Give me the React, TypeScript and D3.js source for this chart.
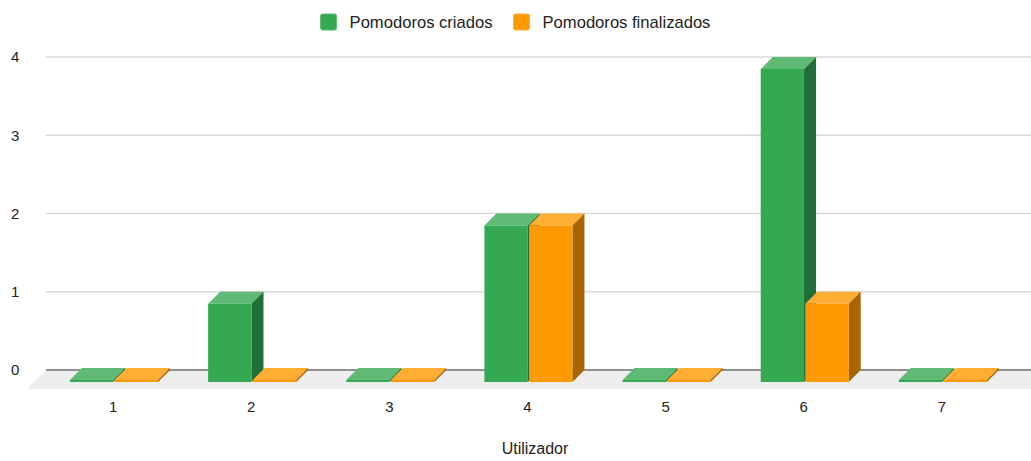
import React, { useRef, useEffect } from "react";
import * as d3 from "d3";

// data
const categories = ["1", "2", "3", "4", "5", "6", "7"];
const criados = [0, 1, 0, 2, 0, 4, 0];
const finalizados = [0, 0, 0, 2, 0, 1, 0];
const seriesNames = ["Pomodoros criados", "Pomodoros finalizados"];
const yTicks = [0, 1, 2, 3, 4];
const xTitle = "Utilizador";

const palette = [
  { front: "#34a853", top: "#5fba75", side: "#226e37" },
  { front: "#ff9900", top: "#ffad33", side: "#a86500" },
];

function App() {
  const svgRef = useRef<SVGSVGElement | null>(null);
  const width = 1031;
  const height = 461;
  const depth = 12;
  const font = "'Liberation Sans', Arial, sans-serif";

  useEffect(() => {
    document.body.style.margin = "0";
    const svg = d3.select(svgRef.current);
    svg.selectAll("*").remove();

    const values = [criados, finalizados];

    // x is measured on the front plane, y on the back wall
    const x0 = d3.scaleBand<string>().domain(categories).range([44, 1011]);
    const x1 = d3
      .scaleBand<string>()
      .domain(seriesNames)
      .range([26, 114])
      .paddingInner(0.03);
    const y = d3.scaleLinear().domain([0, 4]).range([370, 57]);

    const left = 46;

    // floor
    svg
      .append("polygon")
      .attr(
        "points",
        [
          [left, y(0)],
          [width + 20, y(0)],
          [width + 20 - 19, y(0) + 19],
          [left - 19, y(0) + 19],
        ]
          .map(p => p.join(","))
          .join(" ")
      )
      .attr("fill", "#eeeeee");

    // gridlines
    svg
      .append("g")
      .selectAll("line")
      .data(yTicks.filter(t => t !== 0))
      .enter()
      .append("line")
      .attr("x1", left)
      .attr("x2", width)
      .attr("y1", d => y(d))
      .attr("y2", d => y(d))
      .attr("stroke", "#d9d9d9")
      .attr("stroke-width", 1.5);

    svg
      .append("line")
      .attr("x1", left)
      .attr("x2", width)
      .attr("y1", y(0))
      .attr("y2", y(0))
      .attr("stroke", "#6f6f6f")
      .attr("stroke-width", 1.5);

    // y tick labels
    svg
      .append("g")
      .selectAll("text")
      .data(yTicks)
      .enter()
      .append("text")
      .attr("x", 11)
      .attr("y", d => y(d))
      .attr("dy", "0.35em")
      .attr("font-family", font)
      .attr("font-size", 15)
      .attr("fill", "#222")
      .text(d => d);

    // bars
    const bars = svg.append("g");
    categories.forEach((cat, i) => {
      seriesNames.forEach((s, j) => {
        const v = values[j][i];
        const c = palette[j];
        const fx = (x0(cat) as number) + (x1(s) as number);
        const w = x1.bandwidth();
        const base = y(0) + depth;
        let top = y(v) + depth;
        if (base - top < 2) top = base - 2;
        const g = bars.append("g");
        // top face
        g.append("polygon")
          .attr(
            "points",
            [
              [fx, top],
              [fx + depth, top - depth],
              [fx + w + depth, top - depth],
              [fx + w, top],
            ]
              .map(p => p.join(","))
              .join(" ")
          )
          .attr("fill", c.top);
        // side face
        g.append("polygon")
          .attr(
            "points",
            [
              [fx + w, top],
              [fx + w + depth, top - depth],
              [fx + w + depth, base - depth],
              [fx + w, base],
            ]
              .map(p => p.join(","))
              .join(" ")
          )
          .attr("fill", c.side);
        // front face
        g.append("rect")
          .attr("x", fx)
          .attr("y", top)
          .attr("width", w)
          .attr("height", base - top)
          .attr("fill", c.front);
      });
    });

    // x labels
    svg
      .append("g")
      .selectAll("text")
      .data(categories)
      .enter()
      .append("text")
      .attr("x", d => (x0(d) as number) + x0.bandwidth() / 2)
      .attr("y", 407)
      .attr("dy", "0.35em")
      .attr("text-anchor", "middle")
      .attr("font-family", font)
      .attr("font-size", 15)
      .attr("fill", "#222")
      .text(d => d);

    svg
      .append("text")
      .attr("x", 535)
      .attr("y", 448)
      .attr("dy", "0.35em")
      .attr("text-anchor", "middle")
      .attr("font-family", font)
      .attr("font-size", 16)
      .attr("fill", "#222")
      .text(xTitle);

    // legend, centred on the page
    const legend = svg.append("g");
    const items = seriesNames.map((s, j) => {
      const item = legend.append("g");
      item
        .append("rect")
        .attr("width", 16)
        .attr("height", 16)
        .attr("rx", 2)
        .attr("y", 14)
        .attr("fill", palette[j].front)
        .attr("stroke", palette[j].top)
        .attr("stroke-width", 1);
      const t = item
        .append("text")
        .attr("x", 29)
        .attr("y", 22)
        .attr("dy", "0.35em")
        .attr("font-family", font)
        .attr("font-size", 16.6)
        .attr("fill", "#222")
        .text(s);
      const tw = (t.node() as SVGTextElement).getComputedTextLength();
      return { item, w: 29 + tw };
    });
    const gap = 21;
    const total = d3.sum(items, d => d.w) + gap * (items.length - 1);
    let cx = width / 2 - total / 2;
    items.forEach(d => {
      d.item.attr("transform", `translate(${cx},0)`);
      cx += d.w + gap;
    });
  }, []);

  return (
    <svg
      ref={svgRef}
      width={width}
      height={height}
      style={{ display: "block", background: "#fff" }}
    ></svg>
  );
}

export default App;
